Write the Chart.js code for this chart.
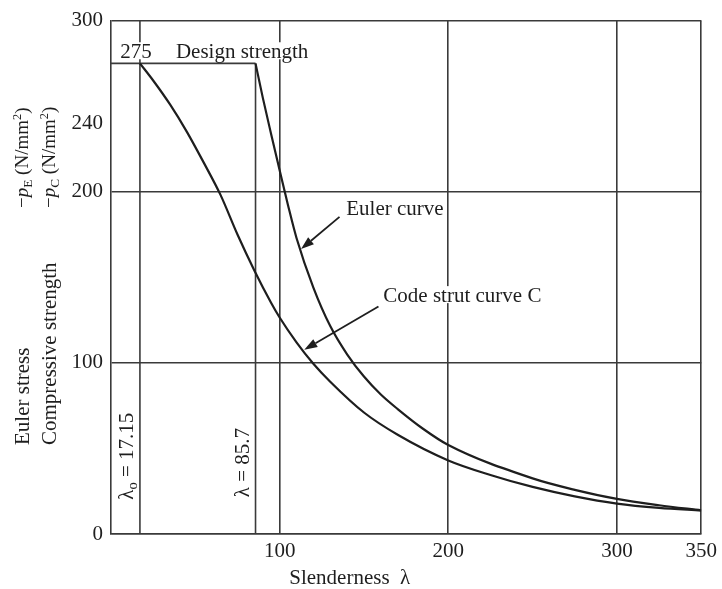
<!DOCTYPE html>
<html>
<head>
<meta charset="utf-8">
<script src="https://cdn.jsdelivr.net/npm/chart.js@4/dist/chart.umd.min.js"></script>
<style>
  body { margin: 0; background: #fff; }
  canvas { display: block; }
</style>
</head>
<body>
<canvas id="strutChart" width="722" height="589"></canvas>
<script>
// Code strut curve C
const strutLambda = [17.15, 25, 35, 45, 55, 65, 75, 85, 95, 100, 110, 120, 130, 150, 170, 200, 225, 250, 275, 300, 325, 350];
const strutStress = [275, 265, 251, 235, 217, 198, 175, 154, 135, 126.5, 112, 99.5, 89, 71, 58, 43, 34.5, 27.5, 22, 17.8, 15.3, 13.8];

// Euler curve
const eulerLambda = [85.7, 90, 95, 100, 105, 110, 120, 130, 140, 150, 160, 170, 185, 200, 250, 275, 300, 325, 350];
const eulerStress = [275, 255, 233.5, 212.5, 192, 173, 144, 121.5, 105, 92, 81.5, 73, 61.5, 52, 32.5, 25.8, 20.5, 16.8, 13.8];

// Reference values
const designStrength = 275;
const lambdaZero = 17.15;
const lambdaLimit = 85.7;

// Tick labels
const xTicks = [100, 200, 300, 350];
const yTicks = [0, 100, 200, 240, 300];

const FONT = '"Liberation Serif", "Times New Roman", serif';
const INK = '#1e1e1e';
const GRID = '#3a3a3a';

const toPoints = (xs, ys) => xs.map((x, i) => ({ x: x, y: ys[i] }));

// Text notes in data units
const notes = [
  { text: '275', x: 5.5, y: 281.5 },
  { text: 'Design strength', x: 38.5, y: 281.5 },
  { text: 'Euler curve', x: 139.5, y: 189.5 },
  { text: 'Code strut curve C', x: 161.5, y: 139 }
];
const arrows = [
  { from: [135.5, 185.3], to: [112.7, 166.5] },
  { from: [158.6, 132.9], to: [114.6, 107.7] }
];

// Draw a run of text pieces (sub/superscripts) along the current x axis
function drawRuns(ctx, runs, size) {
  let x = 0;
  runs.forEach(r => {
    const s = size * (r.scale || 1);
    ctx.font = (r.italic ? 'italic ' : '') + s + 'px ' + FONT;
    ctx.fillText(r.text, x, (r.dy || 0) * size);
    x += ctx.measureText(r.text).width;
  });
  return x;
}

function drawRotated(ctx, px, py, runs, size) {
  ctx.save();
  ctx.translate(px, py);
  ctx.rotate(-Math.PI / 2);
  ctx.textBaseline = 'middle';
  ctx.textAlign = 'left';
  drawRuns(ctx, runs, size);
  ctx.restore();
}

const annotations = {
  id: 'annotations',
  afterDatasetsDraw(chart) {
    const ctx = chart.ctx;
    const xs = chart.scales.x;
    const ys = chart.scales.y;
    ctx.save();
    ctx.fillStyle = INK;
    ctx.strokeStyle = INK;

    // labels with white backing so grid lines break around them
    ctx.font = '21px ' + FONT;
    ctx.textBaseline = 'middle';
    ctx.textAlign = 'left';
    notes.forEach(n => {
      const px = xs.getPixelForValue(n.x);
      const py = ys.getPixelForValue(n.y);
      const w = ctx.measureText(n.text).width;
      ctx.fillStyle = '#fff';
      ctx.fillRect(px - 2, py - 10, w + 4, 17);
      ctx.fillStyle = INK;
      ctx.fillText(n.text, px, py);
    });

    // arrows
    arrows.forEach(a => {
      const x1 = xs.getPixelForValue(a.from[0]);
      const y1 = ys.getPixelForValue(a.from[1]);
      const x2 = xs.getPixelForValue(a.to[0]);
      const y2 = ys.getPixelForValue(a.to[1]);
      const ang = Math.atan2(y2 - y1, x2 - x1);
      const len = 13;
      const half = 4.5;
      const bx = x2 - len * Math.cos(ang);
      const by = y2 - len * Math.sin(ang);
      ctx.lineWidth = 1.8;
      ctx.beginPath();
      ctx.moveTo(x1, y1);
      ctx.lineTo(bx, by);
      ctx.stroke();
      ctx.beginPath();
      ctx.moveTo(x2, y2);
      ctx.lineTo(bx + half * Math.sin(ang), by - half * Math.cos(ang));
      ctx.lineTo(bx - half * Math.sin(ang), by + half * Math.cos(ang));
      ctx.closePath();
      ctx.fill();
    });

    // rotated lambda labels beside the vertical lines
    drawRotated(ctx, xs.getPixelForValue(9.8), ys.getPixelForValue(20),
      [{ text: 'λ' }, { text: 'o', scale: 0.7, dy: 0.28 }, { text: ' = 17.15' }], 21);
    drawRotated(ctx, xs.getPixelForValue(78.5), ys.getPixelForValue(21.5),
      [{ text: 'λ = 85.7' }], 21);

    // y axis title, two lines
    drawRotated(ctx, 23, 445, [{ text: 'Euler stress' }], 21);
    drawRotated(ctx, 23, 208, [
      { text: '−' }, { text: 'p', italic: true }, { text: 'E', scale: 0.7, dy: 0.28 },
      { text: ' (N/mm' }, { text: '2', scale: 0.65, dy: -0.3 }, { text: ')' }
    ], 19);
    drawRotated(ctx, 50, 445, [{ text: 'Compressive strength' }], 21);
    drawRotated(ctx, 50, 208, [
      { text: '−' }, { text: 'p', italic: true }, { text: 'C', scale: 0.7, dy: 0.28 },
      { text: ' (N/mm' }, { text: '2', scale: 0.65, dy: -0.3 }, { text: ')' }
    ], 19);

    // x axis title
    ctx.font = '21px ' + FONT;
    ctx.textBaseline = 'middle';
    ctx.textAlign = 'left';
    ctx.fillText('Slenderness  λ', xs.getPixelForValue(105.7), chart.chartArea.bottom + 44);

    ctx.restore();
  }
};

const lineStyle = {
  showLine: true,
  pointRadius: 0,
  borderColor: INK,
  fill: false
};

new Chart(document.getElementById('strutChart').getContext('2d'), {
  type: 'scatter',
  data: {
    datasets: [
      Object.assign({ label: 'Code strut curve C', data: toPoints(strutLambda, strutStress), borderWidth: 2.2, cubicInterpolationMode: 'monotone' }, lineStyle),
      Object.assign({ label: 'Euler curve', data: toPoints(eulerLambda, eulerStress), borderWidth: 2.2, cubicInterpolationMode: 'monotone' }, lineStyle),
      Object.assign({ label: 'Design strength', data: [{ x: 0, y: designStrength }, { x: lambdaLimit, y: designStrength }], borderWidth: 1.6 }, lineStyle, { borderColor: GRID }),
      Object.assign({ label: 'lambda0', data: [{ x: lambdaZero, y: 0 }, { x: lambdaZero, y: 300 }], borderWidth: 1.6 }, lineStyle, { borderColor: GRID }),
      Object.assign({ label: 'lambda', data: [{ x: lambdaLimit, y: 0 }, { x: lambdaLimit, y: designStrength }], borderWidth: 1.6 }, lineStyle, { borderColor: GRID })
    ]
  },
  options: {
    responsive: false,
    animation: false,
    layout: { padding: { top: 18, right: 20, left: 0, bottom: 0 } },
    plugins: {
      legend: { display: false },
      tooltip: { enabled: false }
    },
    scales: {
      x: {
        type: 'linear',
        min: 0,
        max: 350,
        afterBuildTicks: s => { s.ticks = xTicks.map(v => ({ value: v })); },
        afterFit: s => { s.height = 55; },
        grid: { color: GRID, lineWidth: 1.6, drawTicks: false },
        border: { color: GRID, width: 1.6 },
        ticks: { color: INK, font: { family: FONT, size: 21 }, padding: 5, maxRotation: 0, autoSkip: false }
      },
      y: {
        type: 'linear',
        min: 0,
        max: 300,
        afterBuildTicks: s => { s.ticks = yTicks.map(v => ({ value: v })); },
        afterFit: s => { s.width = 111; },
        grid: {
          color: c => (c.tick && c.tick.value === 240 ? 'rgba(0,0,0,0)' : GRID),
          lineWidth: 1.6,
          drawTicks: false
        },
        border: { color: GRID, width: 1.6 },
        ticks: { color: INK, font: { family: FONT, size: 21 }, padding: 8, autoSkip: false }
      }
    }
  },
  plugins: [annotations]
});
</script>
</body>
</html>
